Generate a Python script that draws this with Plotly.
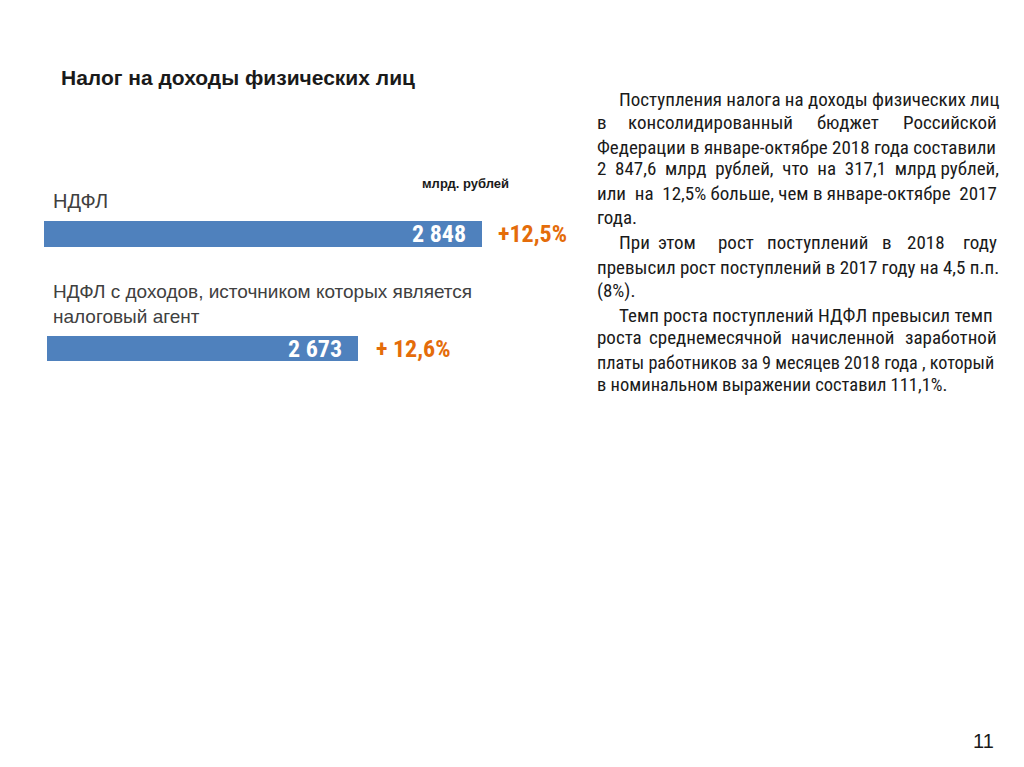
import plotly.graph_objects as go

W, H = 1024, 767

title = "Налог на доходы физических лиц"
unit_label = "млрд. рублей"
categories = ["НДФЛ", "НДФЛ с доходов, источником которых является<br>налоговый агент"]
values = [2848, 2673]
value_labels = ["2 848", "2 673"]
growth_labels = ["+12,5%", "+ 12,6%"]

# Paragraph lines of the commentary block
text_lines = [
    "Поступления налога на доходы физических лиц",
    "в консолидированный бюджет Российской",
    "Федерации в январе-октябре 2018 года составили",
    "2 847,6 млрд рублей, что на 317,1 млрд рублей,",
    "или на 12,5% больше, чем в январе-октябре  2017",
    "года.",
    "При этом рост поступлений в 2018 году",
    "превысил рост поступлений в 2017 году на 4,5 п.п.",
    "(8%).",
    "Темп роста поступлений НДФЛ превысил темп",
    "роста среднемесячной начисленной заработной",
    "платы работников за 9 месяцев 2018 года , который",
    "в номинальном выражении составил 111,1%.",
]
page_number = "11"

BLUE = "#4F81BD"
ORANGE = "#E46C0A"
GRAY = "#404040"
NARROW = "Liberation Sans Narrow, Arial Narrow, Roboto Condensed, Liberation Sans, sans-serif"
SANS = "Liberation Sans, Arial, sans-serif"
NB = "\u00a0"

def px_x(p):
    return p / W

def px_y(p):
    return 1 - p / H

# bar pixel geometry (left, right, top, bottom)
bar_geom = [(44, 482, 221, 247), (47, 358, 336, 361)]

fig = go.Figure()
axes = ["", "2"]
for i, (cat, v) in enumerate(zip(categories, values)):
    l, r, t, b = bar_geom[i]
    fig.add_trace(go.Bar(
        x=[v], y=[0], orientation="h", width=1,
        marker=dict(color=BLUE, line=dict(width=0)),
        xaxis="x" + axes[i], yaxis="y" + axes[i],
        name=cat.replace("<br>", " "), showlegend=False, hoverinfo="x",
    ))
    fig.layout["xaxis" + axes[i]] = dict(domain=[px_x(l), px_x(r)], range=[0, v], visible=False,
                                         fixedrange=True, anchor="y" + axes[i])
    fig.layout["yaxis" + axes[i]] = dict(domain=[px_y(b), px_y(t)], range=[-0.5, 0.5], visible=False,
                                         fixedrange=True, anchor="x" + axes[i])

ann = []
ann.append(dict(text=f"<b>{title}</b>", x=px_x(59), y=px_y(78), xref="paper", yref="paper",
                xanchor="left", yanchor="middle", showarrow=False,
                font=dict(family=SANS, size=21, color="#1a1a1a")))
ann.append(dict(text=f"<b>{unit_label}</b>", x=px_x(511), y=px_y(184), xref="paper", yref="paper",
                xanchor="right", yanchor="middle", showarrow=False,
                font=dict(family=SANS, size=13, color="#1a1a1a")))
# category labels
ann.append(dict(text=categories[0], x=px_x(51), y=px_y(201), xref="paper", yref="paper",
                xanchor="left", yanchor="middle", showarrow=False,
                font=dict(family=SANS, size=20, color=GRAY)))
ann.append(dict(text=categories[1], x=px_x(51), y=px_y(304), xref="paper", yref="paper",
                xanchor="left", yanchor="middle", showarrow=False, align="left",
                font=dict(family=SANS, size=19, color=GRAY)))
for i, v in enumerate(values):
    ann.append(dict(text=f"<b>{value_labels[i]}</b>", x=v, y=0, xref="x" + axes[i], yref="y" + axes[i],
                    xanchor="right", yanchor="middle", xshift=-14, showarrow=False,
                    font=dict(family=NARROW, size=24, color="white")))
    ann.append(dict(text=f"<b>{growth_labels[i]}</b>", x=v, y=0, xref="x" + axes[i], yref="y" + axes[i],
                    xanchor="left", yanchor="middle", xshift=[14, 16][i], showarrow=False,
                    font=dict(family=NARROW, size=24, color=ORANGE)))

# commentary block layout (justified lines are spread word by word)
line_y = [100, 123, 147, 169, 193, 217, 243, 267, 290, 315, 338, 362, 385]
indent = {0, 6, 9}
spread = {
    1: [(595, "left"), (710, "center"), (848, "center"), (999, "right")],
    6: [(617, "left"), (677, "center"), (736, "center"), (817, "center"),
        (887, "center"), (926, "center"), (999, "right")],
    10: [(595, "left"), (715, "center"), (843, "center"), (999, "right")],
}
extra_gaps = {3: 7, 4: 2}     # lines widened with non-breaking spaces
line_size = {11: 18.2, 12: 18.5}

def widen(line, n):
    words = line.split(" ")
    out = words[0]
    for k, w in enumerate(words[1:]):
        out += (NB if k < n else "") + " " + w
    return out

for i, line in enumerate(text_lines):
    tfont = dict(family=NARROW, size=line_size.get(i, 19), color="#1a1a1a")
    if i in spread:
        for word, (xp, anc) in zip(line.split(), spread[i]):
            ann.append(dict(text=word, x=px_x(xp), y=px_y(line_y[i]), xref="paper", yref="paper",
                            xanchor=anc, yanchor="middle", showarrow=False, font=tfont))
    else:
        xp = 617 if i in indent else 595
        txt = widen(line, extra_gaps[i]) if i in extra_gaps else line
        ann.append(dict(text=txt, x=px_x(xp), y=px_y(line_y[i]), xref="paper", yref="paper",
                        xanchor="left", yanchor="middle", showarrow=False, font=tfont))

ann.append(dict(text=page_number, x=px_x(996), y=px_y(741), xref="paper", yref="paper",
                xanchor="right", yanchor="middle", showarrow=False,
                font=dict(family=SANS, size=20, color="#1a1a1a")))

fig.update_layout(
    width=W, height=H, margin=dict(l=0, r=0, t=0, b=0),
    paper_bgcolor="white", plot_bgcolor="white",
    annotations=ann, bargap=0,
)
fig.write_html("out.html", config={"displayModeBar": False},
               post_script="document.body.style.margin='0px';")
